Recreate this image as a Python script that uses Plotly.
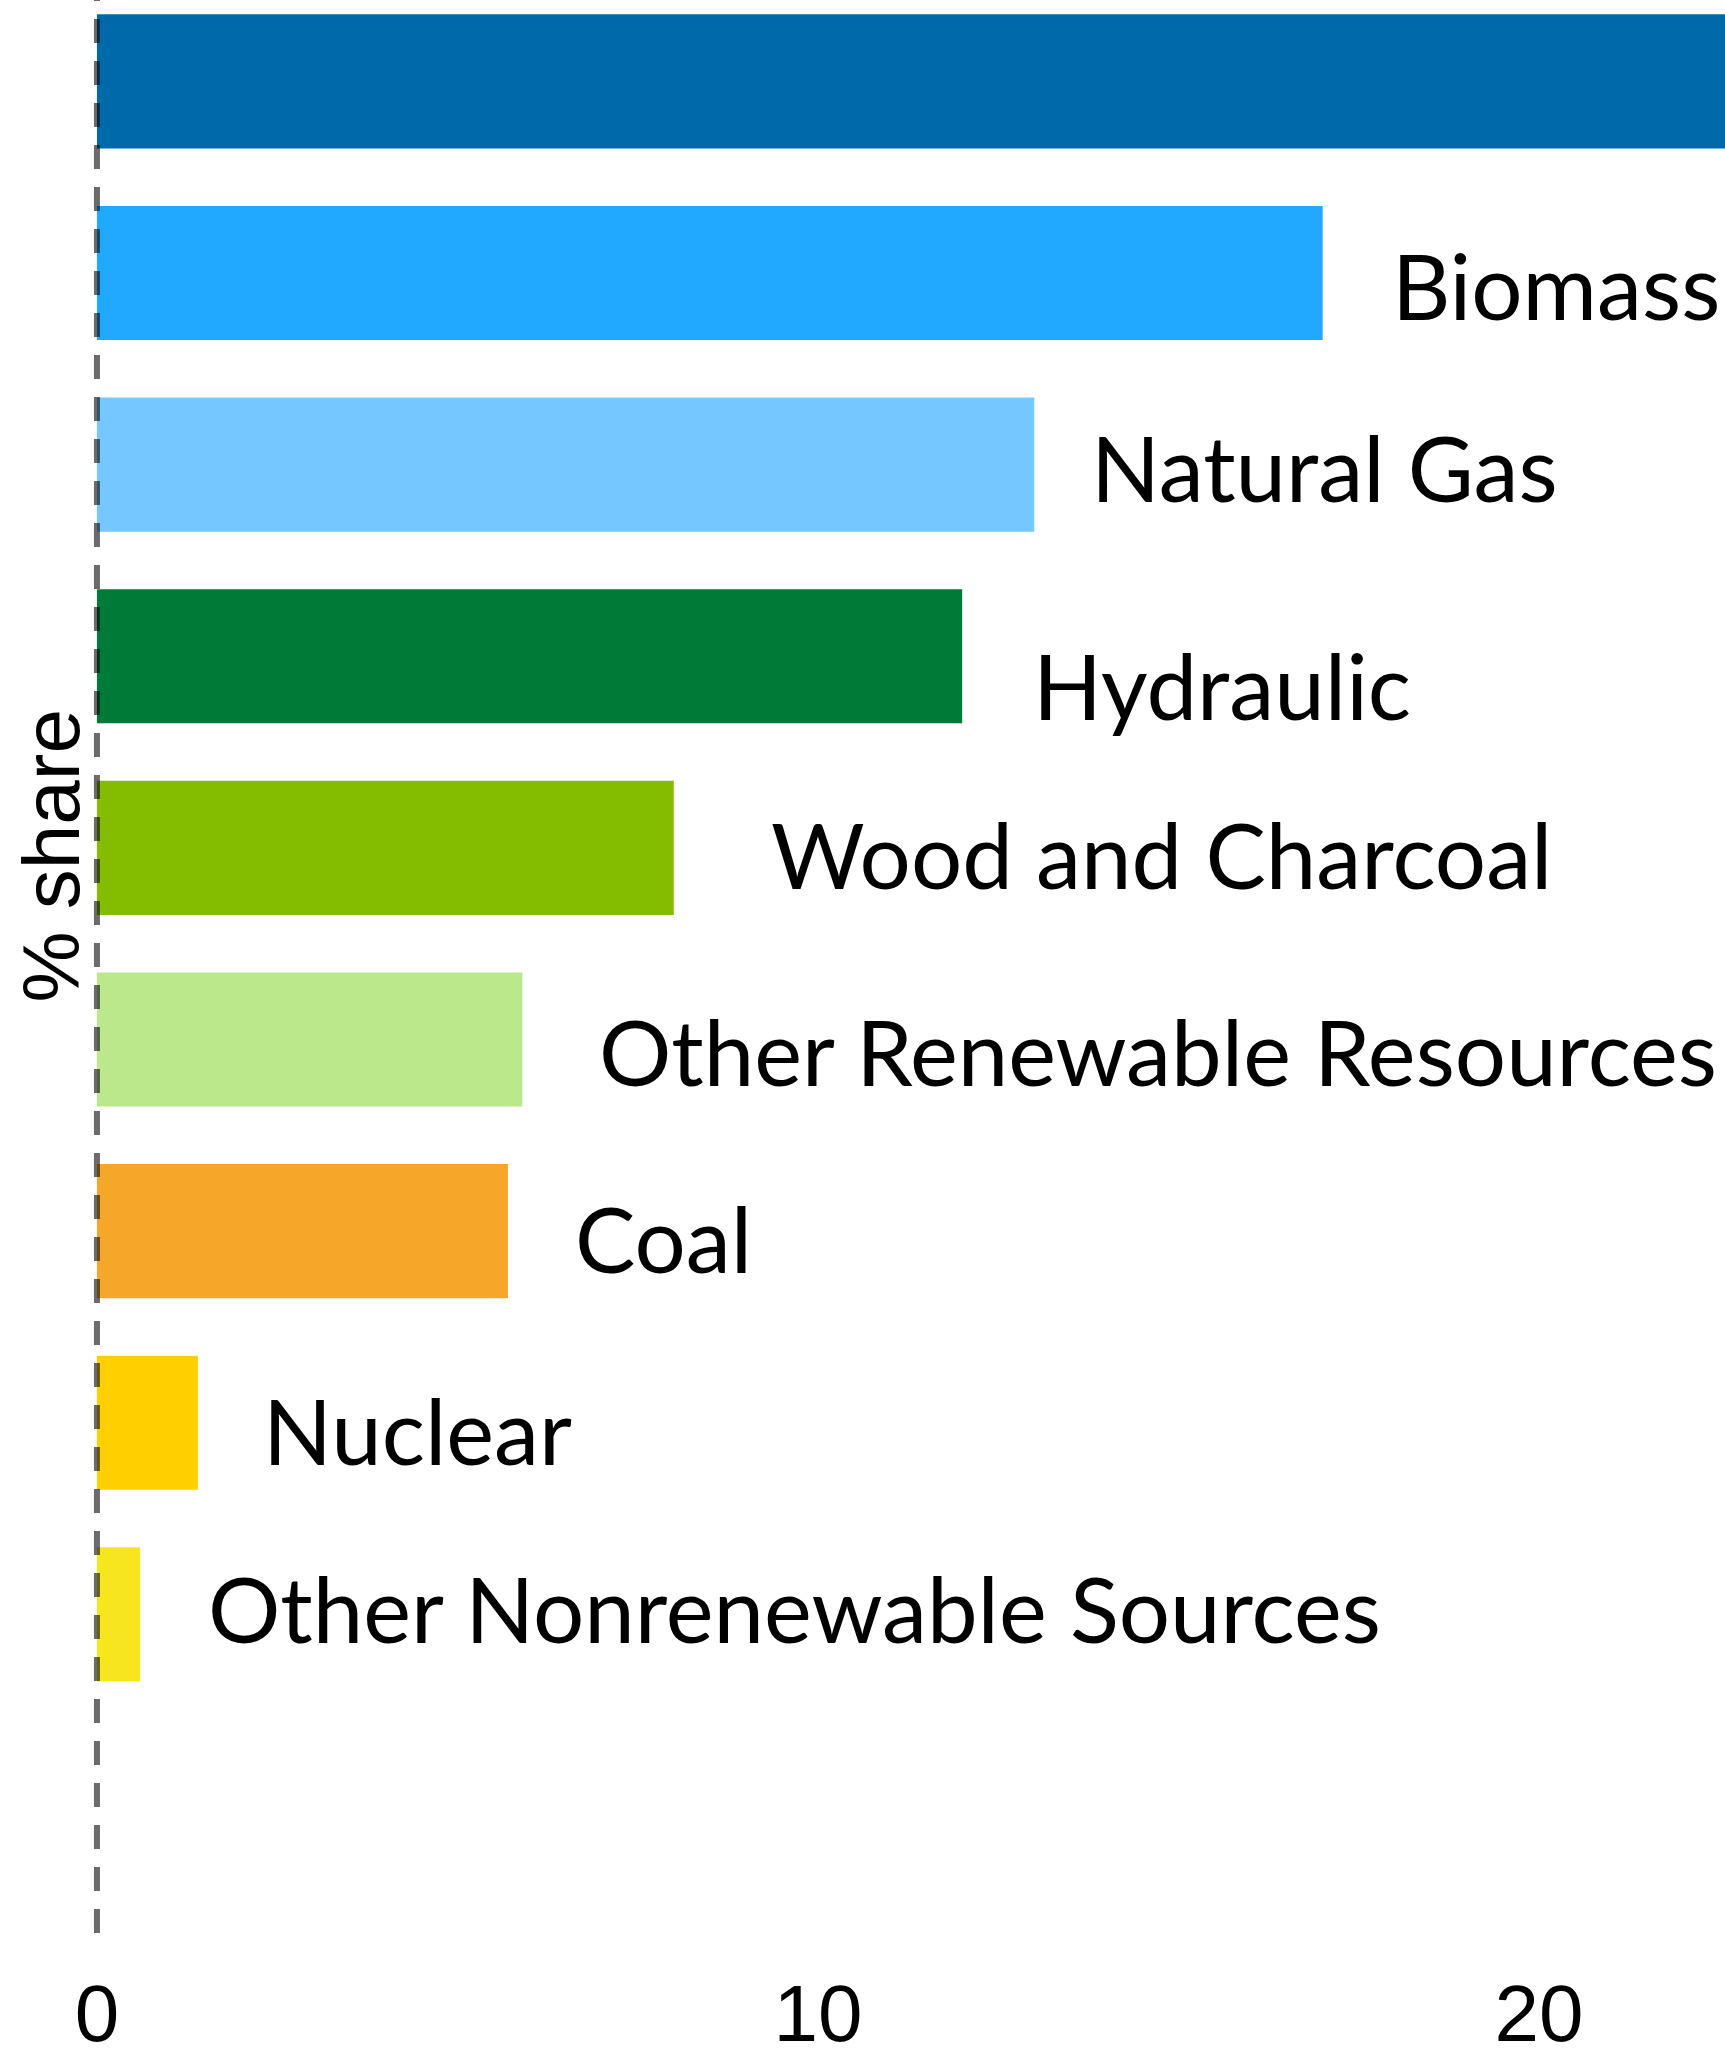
import plotly.graph_objects as go

# ---------------- data ----------------
categories = [
    "Oil and Oil Products",
    "Biomass",
    "Natural Gas",
    "Hydraulic",
    "Wood and Charcoal",
    "Other Renewable Resources",
    "Coal",
    "Nuclear",
    "Other Nonrenewable Sources",
]
share = [36.4, 17.0, 13.0, 12.0, 8.0, 5.9, 5.7, 1.4, 0.6]
x_ticks = [0, 10, 20]
x_tick_labels = ["0", "10", "20"]
axis_title = "% share"

# ---------------- style ----------------
bar_colors = ["#0069AA", "#21A9FF", "#75C8FF", "#007A37", "#84BC00",
              "#BAE88A", "#F5A729", "#FFCF00", "#F7E61E"]
# pixel nudges for the bar labels (xshift, yshift)
label_nudge = [(70, -10), (67, -12), (55, -2), (69, -29), (95, -6.5),
               (75, -11), (65, -7), (63, -7), (66, 6.5)]

W, H = 1725, 2068
M_L, M_R, M_T, M_B = 40, 0, 0, 126
plot_h = H - M_T - M_B

fig = go.Figure()
fig.add_trace(go.Bar(
    x=share, y=categories, orientation="h",
    marker=dict(color=bar_colors, line=dict(width=0)),
    showlegend=False, hoverinfo="skip",
))

for cat, val, (dx, dy) in zip(categories, share, label_nudge):
    fig.add_annotation(
        x=val, y=cat, xref="x", yref="y", text=cat, showarrow=False,
        xanchor="left", yanchor="middle", xshift=dx, yshift=dy,
        font=dict(family="Lato", size=90.5, color="#000000"),
    )

# y axis title
fig.add_annotation(
    x=(51.5 - M_L) / (W - M_L - M_R), y=1 - 856 / plot_h,
    xref="paper", yref="paper", text=axis_title, textangle=-90,
    showarrow=False, xanchor="center", yanchor="middle",
    font=dict(family="Liberation Sans, Arial", size=80, color="#000000"),
)

# dashed reference line at zero
fig.add_shape(
    type="line", xref="x", yref="paper", x0=0, x1=0,
    y0=1 + 23 / plot_h, y1=0, layer="above",
    line=dict(color="rgba(0,0,0,0.58)", width=6, dash="24px,18px"),
)

fig.update_layout(
    width=W, height=H,
    margin=dict(l=M_L, r=M_R, t=M_T, b=M_B, pad=0),
    plot_bgcolor="white", paper_bgcolor="white",
    bargap=0.3,
    font=dict(family="Liberation Sans, Arial", color="#000000"),
)
fig.update_xaxes(
    range=[-0.79, 22.58], tickvals=x_ticks, ticktext=x_tick_labels,
    showgrid=False, zeroline=False, showline=False, ticks="",
    tickfont=dict(family="Liberation Sans, Arial", size=80, color="#000000"),
    ticklabelstandoff=18,
)
fig.update_yaxes(
    type="category", categoryorder="array", categoryarray=categories,
    range=[9.71, -0.425],
    showgrid=False, zeroline=False, showline=False, ticks="",
    showticklabels=False,
)

fig.write_html("out.html", config={"displayModeBar": False},
               post_script="document.body.style.margin='0';")
